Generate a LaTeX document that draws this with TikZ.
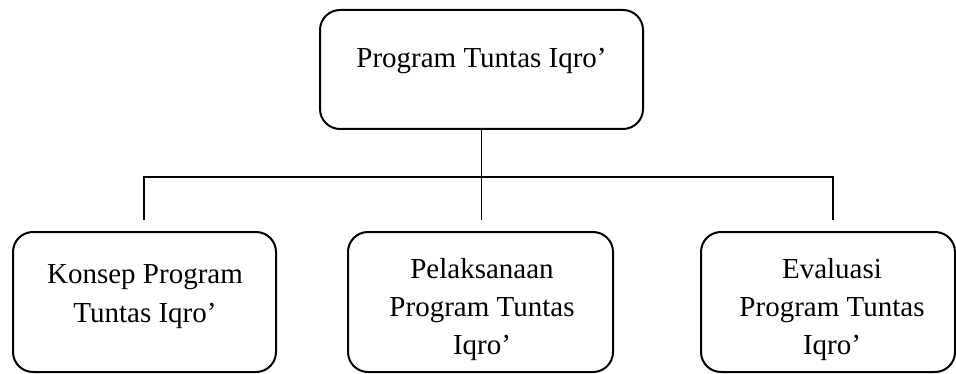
\documentclass[tikz,border=0pt]{standalone}
\usepackage{fontspec}
\setmainfont{Liberation Serif}
\begin{document}
\begin{tikzpicture}[x=0.75pt,y=-0.75pt,
  box/.style={draw, line width=1.5pt, rounded corners=15pt, inner sep=0pt},
  conn/.style={line width=0.8pt},
  lbl/.style={anchor=base, inner sep=0pt, font=\fontsize{21.75pt}{28.5pt}\selectfont}]
\useasboundingbox (0,0) rectangle (956,374);
% boxes
\node[box, minimum width=242.25pt, minimum height=89.25pt] (top) at (481.5,69.5) {};
\node[box, minimum width=197.25pt, minimum height=105pt] (left) at (144.5,302) {};
\node[box, minimum width=198.75pt, minimum height=105pt] (mid) at (480.5,302) {};
\node[box, minimum width=190.5pt, minimum height=105pt] (right) at (828,302) {};
% texts
\node[lbl] (t0) at (481.5,68) {Program Tuntas Iqro’};
\node[lbl] (l1) at (145,283) {Konsep Program};
\node[lbl] (l2) at (145,322) {Tuntas Iqro’};
\node[lbl] (m1) at (482,278) {Pelaksanaan};
\node[lbl] (m2) at (482,316) {Program Tuntas};
\node[lbl] (m3) at (482,354) {Iqro’};
\node[lbl] (r1) at (832,278) {Evaluasi};
\node[lbl] (r2) at (832,316) {Program Tuntas};
\node[lbl] (r3) at (832,354) {Iqro’};
% connectors
\coordinate (j) at (481.5,177);
\coordinate (jl) at (144,177);
\coordinate (jr) at (833,177);
\coordinate (dl) at (144,220);
\coordinate (dm) at (481.5,220);
\coordinate (dr) at (833,220);
\draw[conn] (top.south) -- (j);
\draw[conn] (dl) -- (jl) -- (jr) -- (dr);
\draw[conn] (j) -- (dm);
\end{tikzpicture}
\end{document}
